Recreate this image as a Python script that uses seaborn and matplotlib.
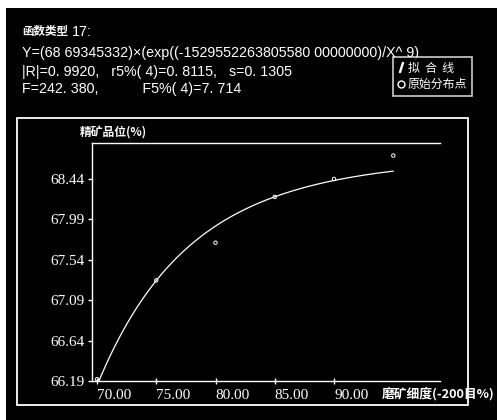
import numpy as np
import pandas as pd
import matplotlib
matplotlib.use("Agg")
import matplotlib.pyplot as plt
from matplotlib.patches import Rectangle
from matplotlib.lines import Line2D
import seaborn as sns

# Observed data: grinding fineness (-200 mesh %) vs concentrate grade (%)
fineness = [70.0, 75.0, 80.0, 85.0, 90.0, 95.0]
grade = [66.21, 67.31, 67.73, 68.24, 68.44, 68.70]

# Fitted model Y = A * exp(-B / X^9)
coef_a = 68.69345332
coef_b = 1529552263805580.0
power = 9

y_ticks = [66.19, 66.64, 67.09, 67.54, 67.99, 68.44]
x_ticks = [70.0, 75.0, 80.0, 85.0, 90.0]

header_lines = [
    "Y=(68 69345332)×(exp((-1529552263805580 00000000)/X^ 9)",
    "|R|=0. 9920,   r5%( 4)=0. 8115,   s=0. 1305",
    "F=242. 380,           F5%( 4)=7. 714",
]

sns.set_theme(style="dark")
plt.rcParams["font.family"] = ["Noto Sans CJK SC", "DejaVu Sans"]
plt.rcParams["axes.unicode_minus"] = False

W, H = 497, 420
fig = plt.figure(figsize=(W / 100, H / 100), dpi=100, facecolor="white")

def fx(px):
    return px / W

def fy(py):
    return 1 - py / H

# black canvas
fig.patches.append(Rectangle((fx(6), 0), 1 - fx(6), fy(8), transform=fig.transFigure,
                             facecolor="black", edgecolor="none", zorder=-5))

ax = fig.add_axes([fx(92), fy(381), fx(440) - fx(92), fy(143) - fy(381)])
ax.set_facecolor("black")
ax.set_zorder(1)

fit_x = np.linspace(70.0, 95.0, 300)
fit_df = pd.DataFrame({"x": fit_x, "y": coef_a * np.exp(-coef_b / fit_x ** power)})
sns.lineplot(data=fit_df, x="x", y="y", ax=ax, color="white", linewidth=0.9)

obs_df = pd.DataFrame({"x": fineness, "y": grade})
sns.scatterplot(data=obs_df, x="x", y="y", ax=ax, marker="o", s=6,
                facecolor="none", edgecolor="white", linewidth=0.7, zorder=4)

ax.set_xlim(69.58, 98.94)
ax.set_ylim(66.19, 68.84)
ax.set_xlabel("")
ax.set_ylabel("")
ax.grid(False)

for side in ["left", "bottom", "top"]:
    ax.spines[side].set_visible(True)
    ax.spines[side].set_color("white")
    ax.spines[side].set_linewidth(1.0)
ax.spines["right"].set_visible(False)

ax.set_yticks(y_ticks)
ax.set_yticklabels([f"{v:.2f}" for v in y_ticks])
ax.set_xticks(x_ticks)
ax.set_xticklabels([f"{v:.2f}" for v in x_ticks])
for lab in ax.get_xticklabels():
    lab.set_horizontalalignment("left")
for lab in ax.get_xticklabels() + ax.get_yticklabels():
    lab.set_fontfamily("Liberation Serif")
    lab.set_fontsize(11)
    lab.set_color("white")
ax.tick_params(axis="y", direction="out", length=3, width=1, color="white", pad=2,
               left=True)
ax.tick_params(axis="x", direction="inout", length=5, width=1, color="white", pad=3,
               bottom=True)

# inner frame
fig.patches.append(Rectangle((fx(17), fy(405)), fx(468) - fx(17), fy(118) - fy(405),
                             transform=fig.transFigure, facecolor="none",
                             edgecolor="white", linewidth=1.3, zorder=5))

# axis titles
fig.text(fx(80), fy(133), "精矿品位(%)", color="white", fontsize=8.5,
         fontweight="bold", ha="left", va="center")
fig.text(fx(382), fy(394), "磨矿细度(-200目%)", color="white", fontsize=9.2,
         fontweight="bold", ha="left", va="center", zorder=4)

# header
fig.text(fx(22), fy(32), "函数类型", color="white", fontsize=8.3, fontweight="bold",
         ha="left", va="center")
fig.text(fx(72), fy(32), "17:", color="white", fontsize=10.3,
         family="Liberation Sans", ha="left", va="center")
for line, py in zip(header_lines, [53, 72, 89]):
    fig.text(fx(22), fy(py), line, color="white", fontsize=10.3,
             family=["Liberation Sans", "DejaVu Sans"], ha="left", va="center")

# legend
handles = [
    Line2D([], [], linestyle="none", marker="$/$", markersize=7, color="white"),
    Line2D([], [], linestyle="none", marker="o", markersize=5, markerfacecolor="none",
           markeredgecolor="white"),
]
leg = fig.legend(handles, ["拟  合  线", "原始分布点"], loc="upper left",
                 bbox_to_anchor=(fx(393), fy(57)), bbox_transform=fig.transFigure,
                 frameon=True, facecolor="black", edgecolor="white", fontsize=8.6,
                 handlelength=0.6, handletextpad=0.25, borderpad=0.38,
                 labelspacing=0.3, borderaxespad=0, fancybox=False)
leg.get_frame().set_linewidth(1.2)
for t in leg.get_texts():
    t.set_color("white")

fig.savefig("out.png", dpi=100, facecolor=fig.get_facecolor())
